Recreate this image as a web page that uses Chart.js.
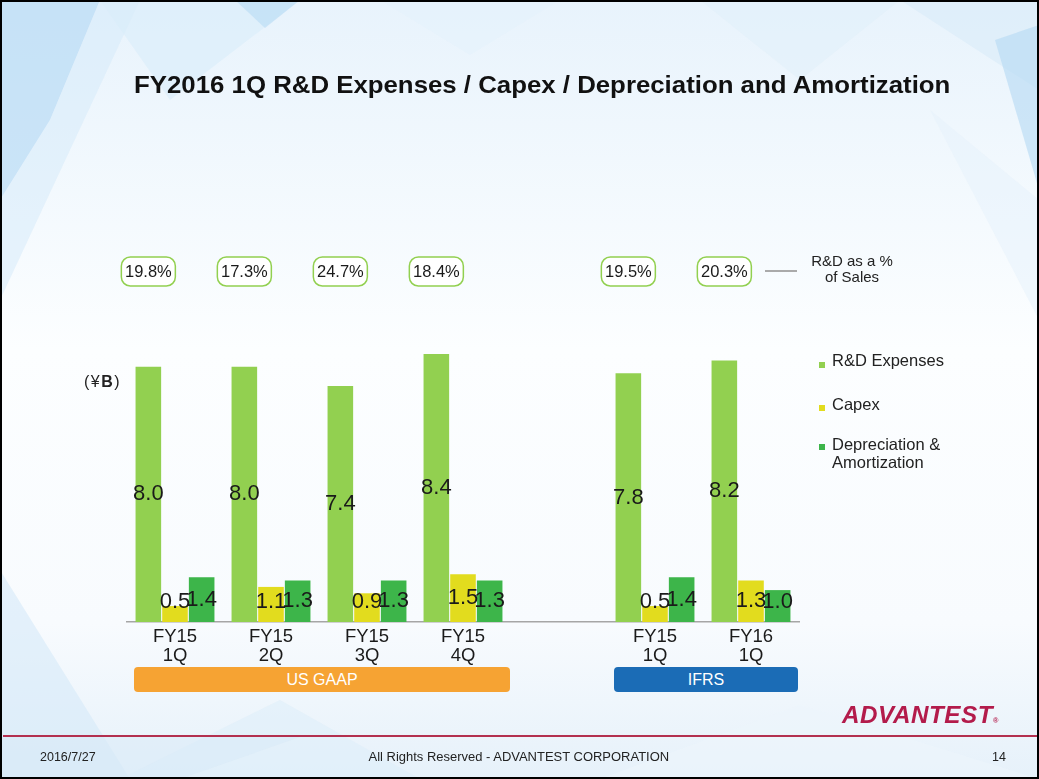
<!DOCTYPE html>
<html><head><meta charset="utf-8">
<script src="https://cdn.jsdelivr.net/npm/chart.js@4.4.0/dist/chart.umd.min.js"></script>
<style>
html,body{margin:0;padding:0;}
body{width:1039px;height:779px;position:relative;overflow:hidden;font-family:"Liberation Sans",Arial,sans-serif;background:#f4f9fd;color:#111;}
.abs{position:absolute;white-space:nowrap;}
#frame{position:absolute;left:0;top:0;width:1039px;height:779px;box-sizing:border-box;border:2px solid #000;z-index:5;pointer-events:none;}
#wrap{position:absolute;left:0;top:0;width:1039px;height:779px;z-index:2;}
.leg{font-size:16.5px;line-height:19px;color:#222;}
.sq{position:absolute;width:6px;height:6px;}
.band{position:absolute;height:25px;line-height:25px;color:#fff;text-align:center;font-size:16px;border-radius:4px;}
</style></head>
<body>
<svg id="bg" class="abs" width="1039" height="779" style="left:0;top:0;z-index:0">
  <defs>
    <linearGradient id="g1" x1="0" y1="0" x2="0" y2="1">
      <stop offset="0" stop-color="#e8f3fc"/>
      <stop offset="0.45" stop-color="#fcfeff"/>
      <stop offset="0.8" stop-color="#f8fbfe"/>
      <stop offset="1" stop-color="#e6f1fa"/>
    </linearGradient>
  </defs>
  <rect width="1039" height="779" fill="url(#g1)"/>
  <polygon points="0,0 100,0 50,120 0,200" fill="#b3d9f4" opacity="0.65"/>
  <polygon points="50,120 100,0 140,0 0,300 0,200" fill="#d3e9f9" opacity="0.5"/>
  <polygon points="100,0 300,0 170,100" fill="#d8ecfa" opacity="0.6"/>
  <polygon points="235,0 300,0 265,28" fill="#b0d7f3" opacity="0.5"/>
  <polygon points="380,0 560,0 470,55" fill="#e4f1fb" opacity="0.6"/>
  <polygon points="700,0 900,0 800,80" fill="#e0effa" opacity="0.5"/>
  <polygon points="900,0 1039,0 1039,90" fill="#d8ebf9" opacity="0.6"/>
  <polygon points="995,40 1039,25 1039,190" fill="#b4d9f4" opacity="0.6"/>
  <polygon points="930,110 1039,200 1039,320" fill="#e6f2fb" opacity="0.5"/>
  <polygon points="0,570 130,779 0,779" fill="#d6e9f8" opacity="0.6"/>
  <polygon points="120,779 280,700 420,779" fill="#dcedf9" opacity="0.5"/>
  <polygon points="0,737 300,737 180,779 0,779" fill="#d8eaf8" opacity="0.5"/>
  <polygon points="600,779 800,705 1039,779" fill="#ecf5fc" opacity="0.6"/>
</svg>

<div id="title" class="abs" style="left:134px;top:70px;font-size:24px;font-weight:bold;line-height:30px;color:#111;transform-origin:0 50%;z-index:3">FY2016 1Q R&amp;D Expenses / Capex / Depreciation and Amortization</div>

<div id="wrap"><canvas id="c"></canvas></div>

<div class="abs" style="left:84px;top:372px;font-size:16px;line-height:20px;color:#222;letter-spacing:1.5px;z-index:3">(¥<b>B</b>)</div>

<div class="sq" style="left:819px;top:362px;background:#92d050;z-index:3"></div>
<div class="abs leg" style="left:832px;top:351px;z-index:3">R&amp;D Expenses</div>
<div class="sq" style="left:819px;top:405px;background:#e2dc1e;z-index:3"></div>
<div class="abs leg" style="left:832px;top:395px;z-index:3">Capex</div>
<div class="sq" style="left:819px;top:444px;background:#3db54a;z-index:3"></div>
<div class="abs leg" style="left:832px;top:435px;line-height:18px;z-index:3">Depreciation &amp;<br>Amortization</div>

<div class="abs" style="left:765px;top:270px;width:32px;height:2px;background:#aaaaaa;z-index:3"></div>
<div class="abs" style="left:806px;top:253px;width:92px;text-align:center;font-size:15px;line-height:16px;color:#222;z-index:3">R&amp;D as a %<br>of Sales</div>

<div class="band" style="left:134px;top:667px;width:376px;background:#f6a333;z-index:3">US GAAP</div>
<div class="band" style="left:614px;top:667px;width:184px;background:#1b6cb6;z-index:3">IFRS</div>

<div id="logo" class="abs" style="left:842px;top:700px;font-size:23px;font-weight:bold;font-style:italic;line-height:30px;color:#b31b4b;transform-origin:0 50%;z-index:3;letter-spacing:0.5px">ADVANTEST<span style="font-size:7px;font-style:normal">®</span></div>
<div class="abs" style="left:3px;top:735px;width:1034px;height:2px;background:#b3304f;z-index:3"></div>
<div class="abs" style="left:40px;top:749px;font-size:12.5px;line-height:16px;color:#222;z-index:3">2016/7/27</div>
<div id="foot" class="abs" style="left:374px;top:749px;font-size:12.5px;line-height:16px;color:#222;z-index:3">All Rights Reserved - ADVANTEST CORPORATION</div>
<div class="abs" style="left:992px;top:749px;font-size:12.5px;line-height:16px;color:#222;z-index:3">14</div>
<div id="frame"></div>

<script>
// ---- data ----
const categories = [['FY15','1Q'],['FY15','2Q'],['FY15','3Q'],['FY15','4Q'],['',''],['FY15','1Q'],['FY16','1Q']];
const rdExpenses = [8.0, 8.0, 7.4, 8.4, null, 7.8, 8.2];
const capex      = [0.5, 1.1, 0.9, 1.5, null, 0.5, 1.3];
const depAmort   = [1.4, 1.3, 1.3, 1.3, null, 1.4, 1.0];
const rdPctOfSales = ['19.8%','17.3%','24.7%','18.4%', null, '19.5%','20.3%'];
const seriesNames = ['R&D Expenses','Capex','Depreciation & Amortization'];
const seriesColors = ['#92d050','#e2dc1e','#3db54a'];

function fitWidth(id, w){
  const el = document.getElementById(id);
  const s = w / el.offsetWidth;
  el.style.transform = 'scaleX(' + s + ')';
}
fitWidth('title', 816);
fitWidth('logo', 157);
fitWidth('foot', 301);

const labelPlugin = {
  id: 'valueLabels',
  afterDatasetsDraw(chart){
    const ctx = chart.ctx;
    ctx.save();
    ctx.textAlign = 'center';
    ctx.textBaseline = 'middle';
    ctx.fillStyle = '#1a1a1a';
    ctx.font = '22px "Liberation Sans", Arial, sans-serif';
    chart.data.datasets.forEach((ds, i) => {
      const meta = chart.getDatasetMeta(i);
      meta.data.forEach((bar, j) => {
        const v = ds.data[j];
        if (v == null) return;
        const mid = (bar.y + bar.base) / 2;
        const y = Math.min(mid, bar.base - 20);
        ctx.fillText(v.toFixed(1), bar.x, y);
      });
    });
    // R&D as % of sales boxes above the R&D bars
    const meta0 = chart.getDatasetMeta(0);
    ctx.font = '16.5px "Liberation Sans", Arial, sans-serif';
    rdPctOfSales.forEach((p, j) => {
      if (p == null) return;
      const x = meta0.data[j].x;
      const w = 54, h = 29, y0 = 257;
      ctx.beginPath();
      ctx.roundRect(x - w/2, y0, w, h, 9);
      ctx.fillStyle = '#ffffff';
      ctx.fill();
      ctx.lineWidth = 1.5;
      ctx.strokeStyle = '#92d050';
      ctx.stroke();
      ctx.fillStyle = '#1a1a1a';
      ctx.fillText(p, x, y0 + h/2 + 1);
    });
    ctx.restore();
  }
};

new Chart(document.getElementById('c'), {
  type: 'bar',
  data: {
    labels: categories,
    datasets: [rdExpenses, capex, depAmort].map((d, i) => ({
      label: seriesNames[i],
      data: d,
      backgroundColor: seriesColors[i],
      borderWidth: 0,
      categoryPercentage: 0.833,
      barPercentage: 0.96
    }))
  },
  options: {
    responsive: true,
    maintainAspectRatio: false,
    devicePixelRatio: 1,
    animation: false,
    layout: { padding: { left: 127, right: 240, top: 303, bottom: 107 } },
    plugins: { legend: { display: false }, tooltip: { enabled: false } },
    scales: {
      x: {
        grid: { display: false, drawTicks: false },
        border: { display: true, color: '#a6a6a6', width: 1.5 },
        ticks: { color: '#1a1a1a', font: { family: '"Liberation Sans", Arial, sans-serif', size: 18.5, lineHeight: 1.05 }, padding: 5, maxRotation: 0, autoSkip: false },
        afterFit(scale){ scale.height = 50; }
      },
      y: { display: false, min: 0, max: 10 }
    }
  },
  plugins: [labelPlugin]
});
</script>
</body></html>
